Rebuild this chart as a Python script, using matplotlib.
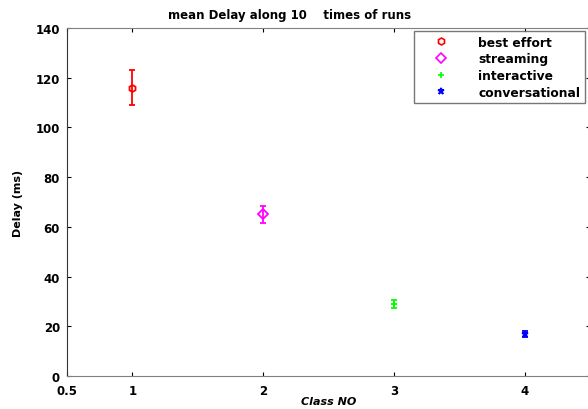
import matplotlib.pyplot as plt
from matplotlib.lines import Line2D

classes = [1, 2, 3, 4]
labels = ["best effort", "streaming", "interactive", "conversational"]
mean_delay = [116, 65, 29, 16.8]
delay_err = [7, 3.5, 1.5, 1.2]
colors = ["#ff0000", "#ff00ff", "#00ff00", "#0000ff"]
markers = ["h", "D", "+", "*"]

plt.rcParams["font.family"] = ["DejaVu Sans"]
plt.rcParams["font.weight"] = "bold"

fig = plt.figure(figsize=(5.88, 4.10), dpi=100)
ax = fig.add_axes([67 / 588, 33 / 410, 523 / 588, 348 / 410])

handles = []
for x, y, e, c, m, lab in zip(classes, mean_delay, delay_err, colors, markers, labels):
    face = "none" if m in ("h", "D") else c
    ax.errorbar(
        x, y, yerr=e, fmt=m, color=c, ecolor=c, markersize=5,
        markerfacecolor=face, markeredgewidth=1.3, elinewidth=1.3, capsize=2,
    )
    handles.append(Line2D([], [], linestyle="none", marker=m, color=c,
                          markerfacecolor=face, markersize=5, markeredgewidth=1.2,
                          label=lab))

ax.set_xlim(0.5, 4.5)
ax.set_ylim(0, 140)
ax.set_xticks([0.5, 1, 2, 3, 4])
ax.set_xticklabels(["0.5", "1", "2", "3", "4"])
ax.set_yticks(range(0, 141, 20))
ax.tick_params(direction="in", top=True, right=True, labelsize=8.5, length=3)
ax.tick_params(axis="x", pad=6)
ax.tick_params(axis="y", pad=5)
for lbl in ax.get_xticklabels() + ax.get_yticklabels():
    lbl.set_fontweight("bold")
for side in ["top", "right", "bottom"]:
    ax.spines[side].set_color("#808080")
ax.spines["left"].set_color("#333333")

ax.set_title("mean Delay along 10    times of runs", fontsize=8.5, fontweight="bold",
             pad=7, x=(290 - 67) / 523)
ax.set_xlabel("Class NO", fontsize=8, fontweight="bold", style="italic", labelpad=-1)
ax.set_ylabel("Delay (ms)", fontsize=8, fontweight="bold", labelpad=9)

leg = ax.legend(
    handles=handles, loc="upper right", bbox_to_anchor=(0.99, 0.99), fontsize=8.8,
    frameon=True, fancybox=False, edgecolor="#555555", handlelength=3.6,
    labelspacing=0.3, borderpad=0.35, handletextpad=1.3, borderaxespad=0,
)
leg.get_frame().set_linewidth(1.0)
for t in leg.get_texts():
    t.set_fontweight("bold")

fig.savefig("out.png", dpi=100)
